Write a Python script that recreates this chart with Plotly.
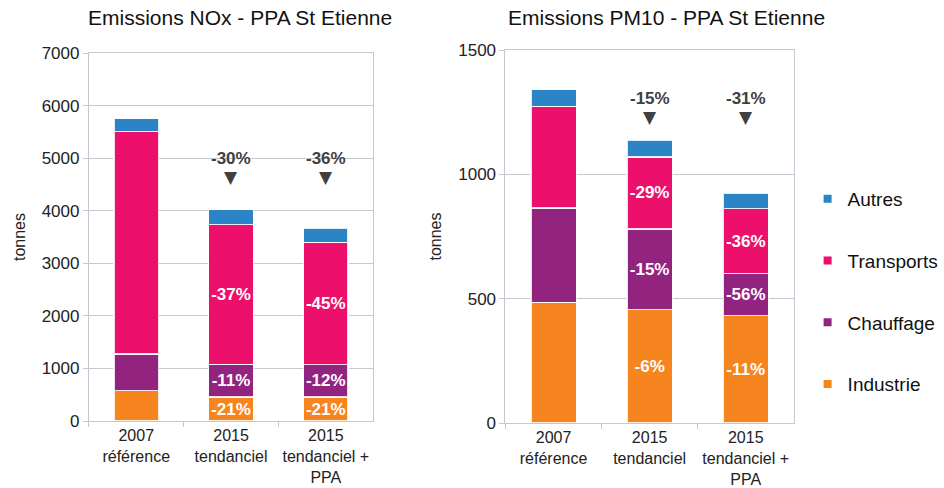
import plotly.graph_objects as go

# Categories on the x axis
categories = ["2007<br>référence", "2015<br>tendanciel", "2015<br>tendanciel +<br>PPA"]
sectors = ["Industrie", "Chauffage", "Transports", "Autres"]

# NOx emissions (tonnes)
nox_industrie = [577, 456, 456]
nox_chauffage = [697, 620, 612]
nox_transports = [4230, 2660, 2330]
nox_autres = [246, 285, 270]

# PM10 emissions (tonnes)
pm_industrie = [485, 456, 432]
pm_chauffage = [380, 324, 168]
pm_transports = [409, 290, 262]
pm_autres = [67, 68, 63]

colors = {
    "Industrie": "#F6841F",
    "Chauffage": "#92237F",
    "Transports": "#EC0F6B",
    "Autres": "#2A84C5",
}
labelled = {"Industrie", "Chauffage", "Transports"}

FONT = "Liberation Sans, Arial, sans-serif"
W, H = 944, 488

nox = dict(zip(sectors, [nox_industrie, nox_chauffage, nox_transports, nox_autres]))
pm = dict(zip(sectors, [pm_industrie, pm_chauffage, pm_transports, pm_autres]))


def pct(v, ref):
    return f"{round((v / ref - 1) * 100):d}%"


fig = go.Figure()


def add_stack(data, xa, ya):
    for s in sectors:
        vals = data[s]
        if s in labelled:
            text = [""] + [pct(v, vals[0]) for v in vals[1:]]
        else:
            text = ["", "", ""]
        fig.add_trace(go.Bar(
            x=categories, y=vals, name=s, xaxis=xa, yaxis=ya,
            marker=dict(color=colors[s], line=dict(color="rgba(255,255,255,0.85)", width=1.2)),
            text=text, textposition="inside", insidetextanchor="middle", textangle=0,
            textfont=dict(color="white", size=17, family=FONT),
            texttemplate="<b>%{text}</b>",
            showlegend=False, hoverinfo="skip",
        ))


add_stack(nox, "x", "y")
add_stack(pm, "x2", "y2")

# Legend entries (small square markers)
for s in reversed(sectors):
    fig.add_trace(go.Scatter(
        x=[None], y=[None], mode="markers", name=s, legendgroup=s,
        marker=dict(symbol="square", size=8, color=colors[s]),
        xaxis="x2", yaxis="y2",
    ))

grid = "#C3C9D0"
axis_common = dict(showline=True, mirror=True, linecolor=grid, linewidth=1,
                   tickfont=dict(family=FONT, size=17, color="#222"))
xtick_font = dict(family=FONT, size=16, color="#222")


def xpaper(px):
    return px / W


def ypaper(px):
    return 1 - px / H


fig.update_layout(
    width=W, height=H,
    margin=dict(l=0, r=0, t=0, b=0),
    paper_bgcolor="white", plot_bgcolor="white",
    barmode="stack", bargap=0.53,
    font=dict(family=FONT, color="#222"),
    xaxis=dict(domain=[xpaper(90), xpaper(378)], anchor="y", type="category",
               ticks="outside", tickson="boundaries", ticklen=5, tickcolor=grid,
               automargin=False,
               **{**axis_common, "tickfont": xtick_font}),
    yaxis=dict(domain=[ypaper(421), ypaper(53)], anchor="x", range=[0, 7000], dtick=1000,
               showgrid=True, gridcolor=grid, ticks="outside", ticklen=5, tickcolor=grid,
               title=dict(text="tonnes", font=dict(family=FONT, size=16, color="#222"), standoff=12),
               automargin=False, **axis_common),
    xaxis2=dict(domain=[xpaper(512), xpaper(804)], anchor="y2", type="category",
                ticks="outside", tickson="boundaries", ticklen=5, tickcolor=grid,
                automargin=False,
                **{**axis_common, "tickfont": xtick_font}),
    yaxis2=dict(domain=[ypaper(423), ypaper(50)], anchor="x2", range=[0, 1500], dtick=500,
                showgrid=True, gridcolor=grid, ticks="outside", ticklen=5, tickcolor=grid,
                title=dict(text="tonnes", font=dict(family=FONT, size=16, color="#222"), standoff=12),
                automargin=False, **axis_common),
    legend=dict(x=xpaper(818), y=ypaper(180), xanchor="left", yanchor="top",
                font=dict(family=FONT, size=19, color="#111"),
                tracegroupgap=34, traceorder="grouped", itemwidth=30,
                bgcolor="rgba(0,0,0,0)"),
    uniformtext=dict(minsize=17, mode="show"),
)

annotations = [
    dict(text="Emissions NOx - PPA St Etienne", x=xpaper(243), y=ypaper(18),
         xref="paper", yref="paper", xanchor="center", yanchor="middle", showarrow=False,
         font=dict(family=FONT, size=21, color="#111")),
    dict(text="Emissions PM10 - PPA St Etienne", x=xpaper(675), y=ypaper(18),
         xref="paper", yref="paper", xanchor="center", yanchor="middle", showarrow=False,
         font=dict(family=FONT, size=21, color="#111")),
]

# Overall change vs 2007, with a down arrow under the figure
for data, xa, ya, ylab, ytri in [(nox, "x", "y", 5000, 4640), (pm, "x2", "y2", 1306, 1229)]:
    totals = [sum(data[s][i] for s in sectors) for i in range(3)]
    for i in (1, 2):
        annotations.append(dict(text=f"<b>{pct(totals[i], totals[0])}</b>", x=categories[i], y=ylab,
                                xref=xa, yref=ya, showarrow=False,
                                font=dict(family=FONT, size=17, color="#404040")))
        annotations.append(dict(text="▼", x=categories[i], y=ytri, xref=xa, yref=ya, showarrow=False,
                                font=dict(family="DejaVu Sans", size=17, color="#404040")))

fig.update_layout(annotations=annotations)

fig.write_html("out.html")
